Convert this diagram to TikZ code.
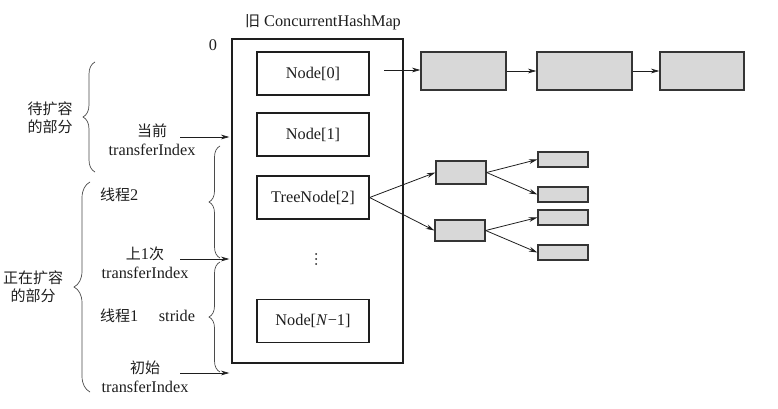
\documentclass[tikz,border=0pt]{standalone}
\usepackage{fontspec}
\setmainfont{Liberation Serif}
\newfontfamily\cjk{Noto Sans CJK SC}
\usetikzlibrary{arrows.meta,decorations.pathreplacing,calc}
\newcommand\zh[1]{{\fontsize{15}{19}\selectfont\cjk #1}}
\definecolor{boxgray}{HTML}{D8D8D8}
\definecolor{ink}{HTML}{1E1E1E}
\begin{document}
\begin{tikzpicture}[x=1pt,y=-1pt,
  every node/.style={text=ink, font=\fontsize{16.3}{19}\selectfont},
  bigbox/.style={draw=ink, line width=1.3pt, inner sep=0pt, minimum width=171pt, minimum height=324pt},
  slot/.style={draw=ink, line width=1.3pt, inner sep=0pt, minimum width=112pt, minimum height=43pt},
  gbox/.style={draw=ink!90, fill=boxgray, line width=1.3pt, inner sep=0pt},
  arr/.style={draw=ink, line width=0.8pt, -{Stealth[length=8.5pt,width=4.8pt]}},
  curly/.style={draw=ink!80, line width=0.7pt, decorate, decoration={brace, amplitude=#1}},
  cjkblock/.style={align=center, font=\fontsize{15}{17.5}\selectfont\cjk},
  twoline/.style={align=center, inner sep=0pt},
  dot/.style={fill=ink, circle, inner sep=0pt, minimum size=2pt}
]
\useasboundingbox (0,0) rectangle (778,409);

% main table
\node[bigbox] (map) at (317.5,201) {};
\node (title) at (323,22) {\zh{旧} ConcurrentHashMap};
\node (zero) at (213,45) {0};
\node[slot] (n0) at (313,73.5) {Node[0]};
\node[slot] (n1) at (313,134.5) {Node[1]};
\node[slot] (n2) at (313,197.5) {TreeNode[2]};
\node[dot] (d1) at (316,254) {};
\node[dot] (d2) at (316,259) {};
\node[dot] (d3) at (316,264) {};
\node[slot] (nN) at (313,321) {Node[\textit{N}\char"2212 1]};

% linked list
\node[gbox, minimum width=85pt, minimum height=38pt] (l1) at (463.5,71) {};
\node[gbox, minimum width=95pt, minimum height=38pt] (l2) at (584.5,71) {};
\node[gbox, minimum width=84pt, minimum height=38pt] (l3) at (702,71) {};
\coordinate (l0s) at (384,70);
\draw[arr] (l0s) -- (l1.west |- l0s);
\draw[arr] (l1.east) -- (l2.west);
\draw[arr] (l2.east) -- (l3.west);

% tree
\node[gbox, minimum width=50pt, minimum height=23pt] (ta) at (461,172.5) {};
\node[gbox, minimum width=50pt, minimum height=21pt] (tb) at (460,230.5) {};
\node[gbox, minimum width=50pt, minimum height=15pt] (c1) at (563,159.5) {};
\node[gbox, minimum width=50pt, minimum height=15pt] (c2) at (563,194.5) {};
\node[gbox, minimum width=50pt, minimum height=15pt] (c3) at (563,217.5) {};
\node[gbox, minimum width=50pt, minimum height=15pt] (c4) at (563,252.5) {};
\draw[arr] (n2.east) -- (ta.west);
\draw[arr] (n2.east) -- (tb.west);
\draw[arr] (ta.east) -- (c1.west);
\draw[arr] (ta.east) -- (c2.west);
\draw[arr] (tb.east) -- (c3.west);
\draw[arr] (tb.east) -- (c4.west);

% left labels
\node[cjkblock] (wait) at (50,118) {待扩容\\的部分};
\node[cjkblock] (doing) at (33,287) {正在扩容\\的部分};
\node[twoline] (cur) at (152,140) {\zh{当前}\\transferIndex};
\node[anchor=west, inner sep=0pt] (t2) at (100,195) {\zh{线程}2};
\node[twoline] (last) at (145,263) {\zh{上}1\zh{次}\\transferIndex};
\node[anchor=west, inner sep=0pt] (t1) at (100,316) {\zh{线程}1};
\node[inner sep=0pt] (stride) at (177,316) {stride};
\node[twoline] (init) at (145,377) {\zh{初始}\\transferIndex};

% arrows into the table
\coordinate (s1) at (180,137);
\coordinate (s2) at (180,259);
\coordinate (s3) at (180,373);
\draw[arr] (s1) -- ($(map.west |- s1)+(-2,0)$);
\draw[arr] (s2) -- ($(map.west |- s2)+(-2,0)$);
\draw[arr] (s3) -- ($(map.west |- s3)+(-2,0)$);

% braces
\draw[curly=12pt] (95,172) -- (95,62);
\draw[curly=16pt] (90,392) -- (90,182);
\draw[curly=11pt] (220,258) -- (220,146);
\draw[curly=11pt] (220,372) -- (220,262);
\end{tikzpicture}
\end{document}
